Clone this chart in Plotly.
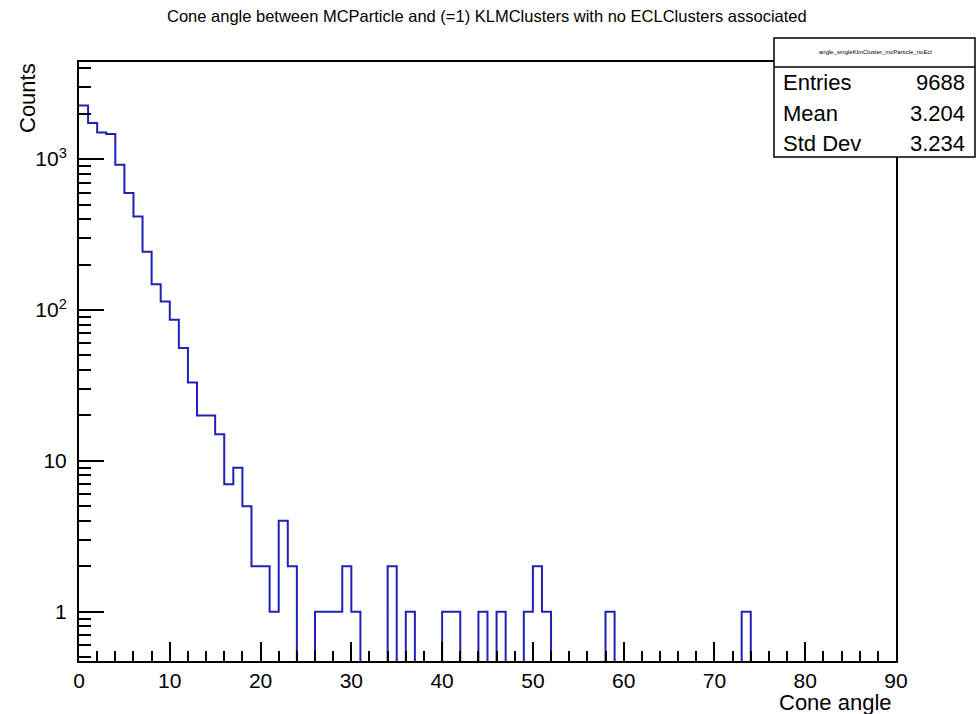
import plotly.graph_objects as go

# ---- data -------------------------------------------------------------
bin_edges_range = (0, 90)
n_bins = 90
counts = [2264, 1735, 1504, 1468, 919, 596, 416, 243, 148, 114,
          86, 56, 33, 20, 20, 15, 7, 9, 5, 2,
          2, 1, 4, 2, 0, 0, 1, 1, 1, 2,
          1, 0, 0, 0, 2, 0, 1, 0, 0, 0,
          1, 1, 0, 0, 1, 0, 1, 0, 0, 1,
          2, 1, 0, 0, 0, 0, 0, 0, 1, 0,
          0, 0, 0, 0, 0, 0, 0, 0, 0, 0,
          0, 0, 0, 1, 0, 0, 0, 0, 0, 0,
          0, 0, 0, 0, 0, 0, 0, 0, 0, 0]
y_tickvals = [1, 10, 100, 1000]
y_ticktext = ["1", "10", "10<sup>2</sup>", "10<sup>3</sup>"]
x_tickvals = [0, 10, 20, 30, 40, 50, 60, 70, 80, 90]
hist_name = "angle_singleKlmCluster_mcParticle_noEcl"
stats_labels = ["Entries", "Mean", "Std Dev"]
stats_values = ["9688", "3.204", "3.234"]
title_text = "Cone angle between MCParticle and (=1) KLMClusters with no ECLClusters associated"

# ---- layout geometry ----------------------------------------------------
W, H = 977, 714
L, R, T, B = 79, 81, 62, 53
y_range = [-0.327, 3.644]
FONT = "Liberation Sans, Arial, Helvetica, sans-serif"

def px_x(p):
    return (p - L) / (W - L - R)

def px_y(p):
    return (H - B - p) / (H - T - B)

width = (bin_edges_range[1] - bin_edges_range[0]) / n_bins
edges = [bin_edges_range[0] + i * width for i in range(n_bins + 1)]
floor = 10 ** (y_range[0] - 0.1)
ys = [c if c > 0 else floor for c in counts]
ys = ys + [ys[-1]]

fig = go.Figure()
fig.add_trace(go.Scatter(
    x=edges, y=ys, mode="lines", line_shape="hv",
    line=dict(color="#2020b8", width=2), hoverinfo="skip", showlegend=False,
))

fig.update_layout(
    width=W, height=H,
    margin=dict(l=L, r=R, t=T, b=B, pad=0),
    paper_bgcolor="white", plot_bgcolor="white",
    font=dict(family=FONT, color="black"),
    showlegend=False,
)

fig.update_xaxes(
    range=[0, 90], showgrid=False, zeroline=False,
    showline=True, linecolor="black", linewidth=2, mirror=True,
    tickmode="array", tickvals=x_tickvals,
    ticks="inside", ticklen=19, tickwidth=1.5, tickcolor="black",
    minor=dict(dtick=2, ticks="inside", ticklen=10, tickwidth=1.5, tickcolor="black", showgrid=False),
    tickfont=dict(size=21, family=FONT),
)
fig.update_yaxes(
    type="log", range=y_range, showgrid=False, zeroline=False,
    showline=True, linecolor="black", linewidth=2, mirror=True,
    tickmode="array", tickvals=y_tickvals, ticktext=y_ticktext,
    ticks="inside", ticklen=25, tickwidth=1.5, tickcolor="black",
    minor=dict(dtick="D1", ticks="inside", ticklen=12, tickwidth=1.5, tickcolor="black", showgrid=False),
    tickfont=dict(size=21, family=FONT),
    ticklabelstandoff=6,
)

annotations = [
    dict(text=title_text, x=px_x(487), y=px_y(16), xref="paper", yref="paper",
         showarrow=False, font=dict(size=16.5, family=FONT), xanchor="center", yanchor="middle"),
    dict(text="Cone angle", x=px_x(894), y=px_y(702), xref="paper", yref="paper",
         showarrow=False, font=dict(size=22, family=FONT), xanchor="right", yanchor="middle"),
    dict(text="Counts", x=px_x(27), y=px_y(61), xref="paper", yref="paper", textangle=-90,
         showarrow=False, font=dict(size=22, family=FONT), xanchor="center", yanchor="top"),
    dict(text=hist_name, x=px_x(875), y=px_y(52), xref="paper", yref="paper",
         showarrow=False, font=dict(size=6, family=FONT), xanchor="center", yanchor="middle"),
]
row_y = [83, 113, 143]
for lab, val, ry in zip(stats_labels, stats_values, row_y):
    annotations.append(dict(text=lab, x=px_x(781), y=px_y(ry), xref="paper", yref="paper",
                            showarrow=False, font=dict(size=22, family=FONT),
                            xanchor="left", yanchor="middle"))
    annotations.append(dict(text=val, x=px_x(967), y=px_y(ry), xref="paper", yref="paper",
                            showarrow=False, font=dict(size=22, family=FONT),
                            xanchor="right", yanchor="middle"))
fig.update_layout(annotations=annotations)

fig.update_layout(shapes=[
    dict(type="rect", xref="paper", yref="paper", x0=px_x(774), x1=px_x(975),
         y0=px_y(157), y1=px_y(38), line=dict(color="black", width=1.5),
         fillcolor="white", layer="above"),
    dict(type="line", xref="paper", yref="paper", x0=px_x(774), x1=px_x(975),
         y0=px_y(67), y1=px_y(67), line=dict(color="black", width=1.5), layer="above"),
])

fig.write_html("out.html")
